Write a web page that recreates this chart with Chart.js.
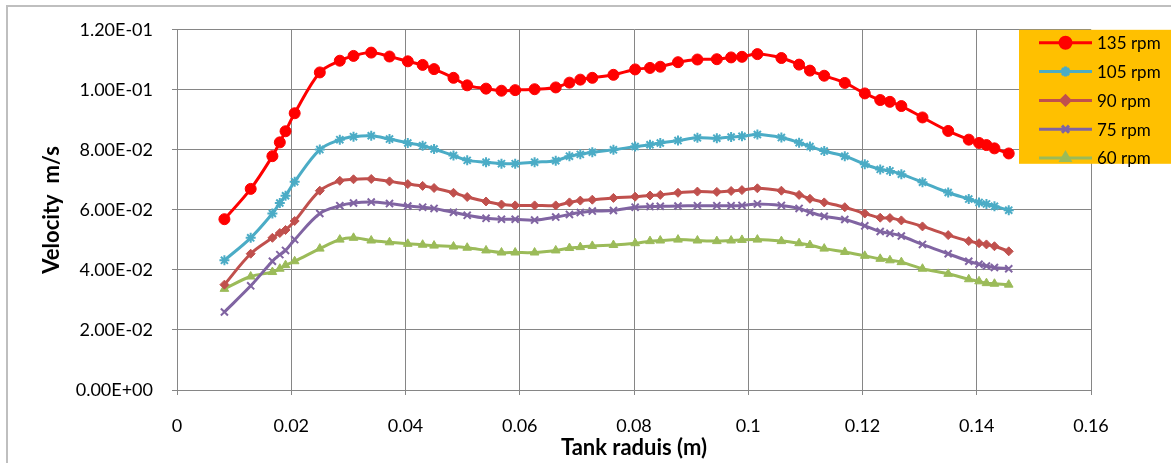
<!DOCTYPE html>
<html>
<head>
<meta charset="utf-8">
<script src="https://cdn.jsdelivr.net/npm/chart.js@4.4.1/dist/chart.umd.min.js"></script>
<style>
    html, body { margin: 0; padding: 0; background: #fff; }
    #wrap { width: 1171px; height: 463px; }
</style>
</head>
<body>
<div id="wrap"><canvas id="velocityChart" width="1171" height="463"></canvas></div>
<script>
// Tank radius positions (m)
const radius = [
    0.0083, 0.0129, 0.0167, 0.0180, 0.0190, 0.0206, 0.0250, 0.0285, 0.0309, 0.0340,
    0.0372, 0.0404, 0.0430, 0.0450, 0.0484, 0.0508, 0.0541, 0.0568, 0.0592, 0.0626,
    0.0663, 0.0687, 0.0706, 0.0727, 0.0764, 0.0802, 0.0828, 0.0846, 0.0877, 0.0911,
    0.0945, 0.0970, 0.0989, 0.1016, 0.1058, 0.1089, 0.1108, 0.1133, 0.1169, 0.1204,
    0.1231, 0.1248, 0.1268, 0.1305, 0.1350, 0.1386, 0.1404, 0.1417, 0.1431, 0.1456
];

// Velocity (m/s) per impeller speed
const v135 = [
    0.0569, 0.0670, 0.0779, 0.0825, 0.0862, 0.0922, 0.1058, 0.1097, 0.1113, 0.1124,
    0.1111, 0.1095, 0.1083, 0.1069, 0.1040, 0.1015, 0.1004, 0.0997, 0.0999, 0.1002,
    0.1008, 0.1024, 0.1034, 0.1040, 0.1050, 0.1068, 0.1073, 0.1077, 0.1092, 0.1101,
    0.1102, 0.1108, 0.1110, 0.1119, 0.1106, 0.1084, 0.1064, 0.1047, 0.1023, 0.0988,
    0.0966, 0.0960, 0.0946, 0.0908, 0.0863, 0.0834, 0.0823, 0.0816, 0.0805, 0.0788
];
const v105 = [
    0.0432, 0.0507, 0.0588, 0.0623, 0.0647, 0.0694, 0.0801, 0.0834, 0.0844, 0.0847,
    0.0836, 0.0823, 0.0814, 0.0803, 0.0781, 0.0765, 0.0759, 0.0754, 0.0754, 0.0759,
    0.0764, 0.0779, 0.0785, 0.0792, 0.0800, 0.0811, 0.0817, 0.0823, 0.0831, 0.0840,
    0.0839, 0.0843, 0.0845, 0.0851, 0.0841, 0.0824, 0.0811, 0.0796, 0.0779, 0.0752,
    0.0735, 0.0730, 0.0719, 0.0692, 0.0658, 0.0636, 0.0625, 0.0620, 0.0612, 0.0599
];
const v90 = [
    0.0351, 0.0454, 0.0507, 0.0523, 0.0533, 0.0563, 0.0664, 0.0697, 0.0702, 0.0703,
    0.0695, 0.0686, 0.0680, 0.0673, 0.0657, 0.0643, 0.0628, 0.0618, 0.0615, 0.0615,
    0.0615, 0.0625, 0.0631, 0.0634, 0.0640, 0.0644, 0.0648, 0.0650, 0.0657, 0.0661,
    0.0660, 0.0663, 0.0666, 0.0672, 0.0664, 0.0650, 0.0637, 0.0625, 0.0609, 0.0588,
    0.0574, 0.0573, 0.0565, 0.0545, 0.0516, 0.0496, 0.0489, 0.0485, 0.0479, 0.0462
];
const v75 = [
    0.0260, 0.0347, 0.0429, 0.0451, 0.0465, 0.0501, 0.0588, 0.0614, 0.0623, 0.0626,
    0.0621, 0.0613, 0.0609, 0.0605, 0.0592, 0.0582, 0.0572, 0.0569, 0.0569, 0.0566,
    0.0576, 0.0585, 0.0591, 0.0596, 0.0598, 0.0609, 0.0611, 0.0612, 0.0613, 0.0614,
    0.0614, 0.0614, 0.0615, 0.0620, 0.0615, 0.0605, 0.0592, 0.0579, 0.0568, 0.0547,
    0.0528, 0.0522, 0.0513, 0.0485, 0.0454, 0.0429, 0.0419, 0.0413, 0.0408, 0.0404
];
const v60 = [
    0.0337, 0.0378, 0.0393, 0.0404, 0.0416, 0.0429, 0.0471, 0.0501, 0.0507, 0.0498,
    0.0492, 0.0487, 0.0484, 0.0481, 0.0478, 0.0474, 0.0465, 0.0458, 0.0458, 0.0458,
    0.0465, 0.0473, 0.0476, 0.0480, 0.0483, 0.0489, 0.0496, 0.0498, 0.0501, 0.0498,
    0.0496, 0.0498, 0.0500, 0.0501, 0.0496, 0.0489, 0.0483, 0.0471, 0.0460, 0.0447,
    0.0437, 0.0432, 0.0426, 0.0404, 0.0387, 0.0369, 0.0362, 0.0356, 0.0354, 0.0351
];

const seriesLabels = ['135 rpm', '105 rpm', '90 rpm', '75 rpm', '60 rpm'];

const gridColor = '#868686';
const fontFamily = 'Lato, "Open Sans", sans-serif';

const toPoints = (values) => values.map((v, i) => ({ x: radius[i], y: v }));

// Excel style scientific labels: 1.20E-01
const sciLabel = (v) => {
    if (Math.abs(v) < 1e-12) return '0.00E+00';
    const [mant, exp] = v.toExponential(2).split('e');
    const n = parseInt(exp, 10);
    return mant + 'E' + (n < 0 ? '-' : '+') + String(Math.abs(n)).padStart(2, '0');
};

// Light frame around the chart, like the Excel chart area border
const framePlugin = {
    id: 'frame',
    beforeDraw(chart) {
        const ctx = chart.ctx;
        ctx.save();
        ctx.strokeStyle = '#bfbfbf';
        ctx.lineWidth = 2;
        ctx.beginPath();
        ctx.moveTo(7, chart.height);
        ctx.lineTo(7, 6);
        ctx.lineTo(chart.width, 6);
        ctx.stroke();
        ctx.restore();
    }
};

// Orange legend box that sits over the top right of the plot
const boxLegendPlugin = {
    id: 'boxLegend',
    afterDraw(chart) {
        const ctx = chart.ctx;
        const area = chart.chartArea;
        const left = area.right - 72;
        const top = area.top;
        ctx.save();
        ctx.fillStyle = '#ffc000';
        ctx.fillRect(left, top, chart.width - left, 134);
        chart.data.datasets.forEach((ds, i) => {
            const y = top + 13 + i * 28.8;
            const x0 = left + 20, x1 = left + 73;
            ctx.strokeStyle = ds.borderColor;
            ctx.lineWidth = ds.borderWidth;
            ctx.beginPath();
            ctx.moveTo(x0, y);
            ctx.lineTo(x1, y);
            ctx.stroke();
            ctx.fillStyle = ds.pointBackgroundColor;
            ctx.strokeStyle = ds.pointBorderColor;
            Chart.helpers.drawPoint(ctx, {
                pointStyle: ds.pointStyle,
                radius: ds.pointRadius,
                rotation: 0,
                borderWidth: ds.pointBorderWidth
            }, (x0 + x1) / 2, y);
            ctx.fillStyle = '#000';
            ctx.font = '17px ' + fontFamily;
            ctx.textBaseline = 'middle';
            ctx.textAlign = 'left';
            ctx.fillText(ds.label, x1 + 5, y + 1);
        });
        ctx.restore();
    }
};

const makeSet = (label, values, color, style, radiusPx, borderW) => ({
    label: label,
    data: toPoints(values),
    borderColor: color,
    backgroundColor: color,
    borderWidth: 3,
    tension: 0.35,
    pointStyle: style,
    pointRadius: radiusPx,
    pointHoverRadius: radiusPx,
    pointBackgroundColor: color,
    pointBorderColor: color,
    pointBorderWidth: borderW,
    fill: false
});

const ctx = document.getElementById('velocityChart').getContext('2d');
const velocityChart = new Chart(ctx, {
    type: 'line',
    data: {
        datasets: [
            makeSet(seriesLabels[0], v135, '#ff0000', 'circle', 5.5, 1),
            makeSet(seriesLabels[1], v105, '#4bacc6', 'star', 5, 2),
            makeSet(seriesLabels[2], v90, '#c0504d', 'rectRot', 4.5, 1),
            makeSet(seriesLabels[3], v75, '#8064a2', 'crossRot', 5, 2),
            makeSet(seriesLabels[4], v60, '#9bbb59', 'triangle', 5, 1)
        ]
    },
    options: {
        responsive: false,
        animation: false,
        layout: { padding: { left: 0, right: 80, top: 23, bottom: 0 } },
        plugins: {
            legend: { display: false },
            tooltip: { enabled: false }
        },
        scales: {
            x: {
                type: 'linear',
                min: 0,
                max: 0.16,
                afterFit: (scale) => { scale.height = 73; },
                ticks: {
                    stepSize: 0.02,
                    color: '#000',
                    padding: 20,
                    font: { family: fontFamily, size: 18 },
                    callback: (v) => String(+v.toFixed(2))
                },
                grid: { color: gridColor, tickLength: 5, lineWidth: 1 },
                border: { color: gridColor },
                title: {
                    display: true,
                    text: 'Tank raduis (m)',
                    color: '#000',
                    font: { family: fontFamily, size: 22, weight: 'bold' },
                    padding: { top: 0, bottom: 2 }
                }
            },
            y: {
                min: 0,
                max: 0.12,
                afterFit: (scale) => { scale.width = 177; },
                ticks: {
                    stepSize: 0.02,
                    color: '#000',
                    padding: 19,
                    font: { family: fontFamily, size: 18 },
                    callback: sciLabel
                },
                grid: { color: gridColor, tickLength: 5, lineWidth: 1 },
                border: { color: gridColor },
                title: {
                    display: true,
                    text: 'Velocity  m/s',
                    color: '#000',
                    font: { family: fontFamily, size: 22, weight: 'bold' },
                    padding: { top: 39, bottom: 0 }
                }
            }
        }
    },
    plugins: [framePlugin, boxLegendPlugin]
});
</script>
</body>
</html>
